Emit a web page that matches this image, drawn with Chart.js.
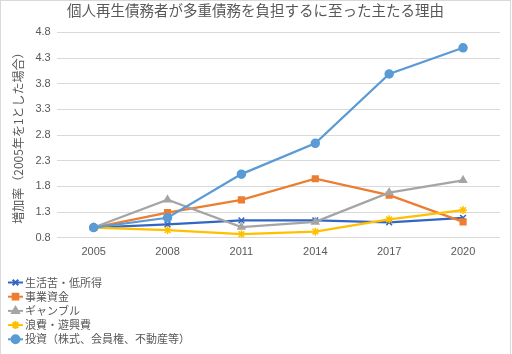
<!DOCTYPE html>
<html>
<head>
<meta charset="utf-8">
<script src="https://cdn.jsdelivr.net/npm/chart.js@4"></script>
<style>
  html, body { margin: 0; padding: 0; background: #fff; }
  #wrap { width: 512px; height: 354px; position: relative; }
</style>
</head>
<body>
<div id="wrap"><canvas id="reasonChart" width="512" height="354"></canvas></div>
<script>
const years = ["2005", "2008", "2011", "2014", "2017", "2020"];
const yTicks = [0.8, 1.3, 1.8, 2.3, 2.8, 3.3, 3.8, 4.3, 4.8];

const livingHardship = [1.0, 1.06, 1.14, 1.14, 1.10, 1.19];
const businessFunds  = [1.0, 1.29, 1.54, 1.95, 1.63, 1.11];
const gambling       = [1.0, 1.54, 1.01, 1.11, 1.68, 1.92];
const wasteful       = [1.0, 0.95, 0.87, 0.92, 1.16, 1.34];
const investment     = [1.0, 1.19, 2.04, 2.64, 3.99, 4.50];

const FONT = "'Noto Sans CJK JP', 'Noto Sans', sans-serif";
const NUM_FONT = "'Liberation Sans', Arial, sans-serif";
const TEXT = "#595959";

// excel style legend: stacked under the plot, line through marker
const stackedLegend = {
    id: "stackedLegend",
    afterDraw(chart) {
        const ctx = chart.ctx;
        ctx.save();
        chart.data.datasets.forEach((ds, i) => {
            const y = 282.5 + i * 14.2;
            ctx.strokeStyle = ds.borderColor;
            ctx.lineWidth = 2;
            ctx.beginPath();
            ctx.moveTo(8, y);
            ctx.lineTo(23, y);
            ctx.stroke();
            ctx.fillStyle = ds.borderColor;
            ctx.strokeStyle = ds.borderColor;
            Chart.helpers.drawPoint(ctx, {
                pointStyle: ds.pointStyle,
                radius: 4,
                borderWidth: 1.5
            }, 15.5, y);
            ctx.fillStyle = TEXT;
            ctx.font = "11px " + FONT;
            ctx.textBaseline = "middle";
            ctx.textAlign = "left";
            ctx.fillText(ds.label, 25, y);
        });
        ctx.strokeStyle = "#d9d9d9";
        ctx.lineWidth = 1;
        ctx.strokeRect(0.5, 0.5, 510, 360);
        ctx.restore();
    }
};

function series(label, data, color, style, order) {
    return {
        label: label,
        data: data,
        borderColor: color,
        backgroundColor: color,
        pointBackgroundColor: color,
        pointBorderColor: color,
        pointStyle: style,
        pointRadius: 4,
        pointBorderWidth: 1.5,
        borderWidth: 2.25,
        tension: 0,
        order: order
    };
}

new Chart(document.getElementById("reasonChart"), {
    type: "line",
    data: {
        labels: years,
        datasets: [
            series("生活苦・低所得", livingHardship, "#3366c2", "crossRot", 4),
            series("事業資金", businessFunds, "#ed7d31", "rect", 3),
            series("ギャンブル", gambling, "#a5a5a5", "triangle", 2),
            series("浪費・遊興費", wasteful, "#ffc000", "star", 1),
            series("投資（株式、会員権、不動産等）", investment, "#5b9bd5", "circle", 0)
        ]
    },
    options: {
        responsive: false,
        animation: false,
        layout: { padding: { left: 11, right: 12, top: 0, bottom: 87 } },
        plugins: {
            legend: { display: false },
            tooltip: { enabled: false },
            title: {
                display: true,
                text: "個人再生債務者が多重債務を負担するに至った主たる理由",
                color: TEXT,
                font: { family: FONT, size: 14.5, weight: "normal" },
                padding: { top: 2, bottom: 13 }
            }
        },
        scales: {
            x: {
                offset: true,
                grid: { display: false, drawTicks: false },
                border: { display: false },
                ticks: { color: TEXT, font: { family: NUM_FONT, size: 11 }, padding: 8 }
            },
            y: {
                min: 0.8,
                max: 4.8,
                afterBuildTicks: (axis) => { axis.ticks = yTicks.map(v => ({ value: v })); },
                grid: { color: "#d9d9d9", drawTicks: false },
                border: { display: false },
                ticks: {
                    color: TEXT,
                    font: { family: NUM_FONT, size: 11 },
                    padding: 6,
                    callback: v => v.toFixed(1)
                },
                title: {
                    display: true,
                    text: "増加率（2005年を1とした場合）",
                    color: TEXT,
                    font: { family: FONT, size: 12 },
                    padding: { top: 0, bottom: 4 }
                }
            }
        }
    },
    plugins: [stackedLegend]
});
</script>
</body>
</html>
